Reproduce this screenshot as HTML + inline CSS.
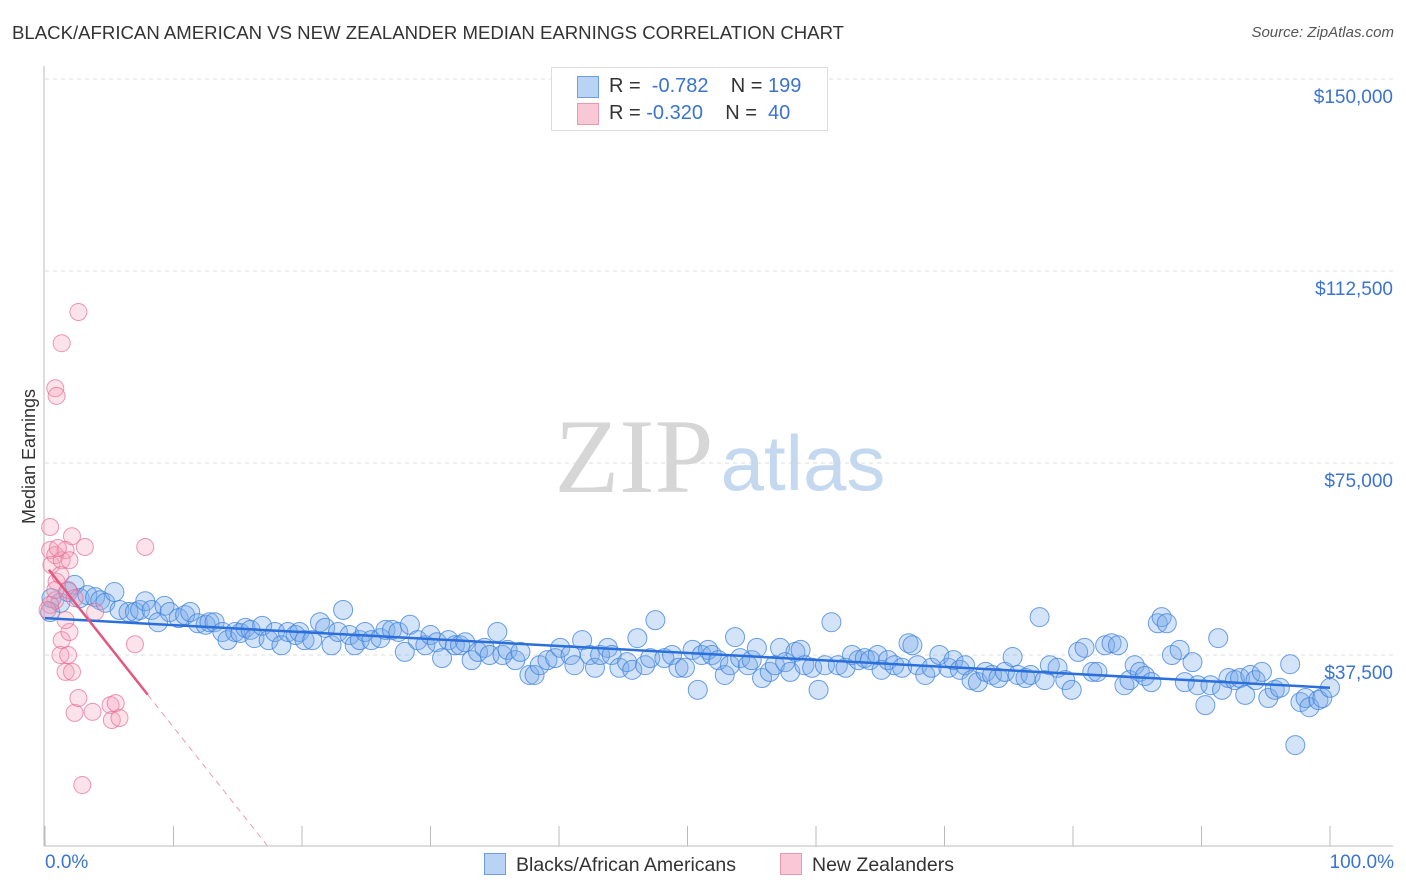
<!DOCTYPE html>
<html><head><meta charset="utf-8"><style>
body{margin:0;background:#fff;font-family:"Liberation Sans",sans-serif;}
#wrap{position:relative;width:1406px;height:892px;overflow:hidden;}
.t{position:absolute;white-space:nowrap;}
</style></head><body><div id="wrap">
<div class="t" style="left:12px;top:22px;font-size:18.6px;color:#333;">BLACK/AFRICAN AMERICAN VS NEW ZEALANDER MEDIAN EARNINGS CORRELATION CHART</div>
<div class="t" style="right:12px;top:24px;font-size:15px;color:#555;font-style:italic;">Source: ZipAtlas.com</div>
<svg id="svg" width="1406" height="892" style="position:absolute;left:0;top:0"></svg>
</div>
<script>
const bx=[0.4,0.5,1.2,1.8,2.3,2.7,3.3,3.9,4.3,4.7,5.4,5.8,6.5,7.0,7.4,7.8,8.3,8.8,9.3,9.7,10.4,10.9,11.3,11.9,12.5,12.8,13.2,13.8,14.2,14.8,15.2,15.6,16.0,16.3,16.9,17.4,17.9,18.4,18.9,19.5,19.8,20.2,20.8,21.4,21.8,22.3,22.8,23.2,23.7,24.1,24.5,24.9,25.4,26.1,26.5,27.0,27.5,28.0,28.4,29.0,29.6,30.0,30.5,30.9,31.4,31.9,32.3,32.7,33.2,33.7,34.2,34.6,35.2,35.6,36.0,36.6,37.0,37.7,38.1,38.5,39.1,39.7,40.1,40.9,41.2,41.8,42.4,42.8,43.2,43.8,44.1,44.7,45.3,45.7,46.1,46.7,47.1,47.5,48.2,48.8,49.3,49.8,50.4,50.8,51.1,51.6,51.9,52.4,52.9,53.3,53.7,54.1,54.7,55.0,55.4,55.8,56.4,56.8,57.2,57.6,58.0,58.4,58.8,59.1,59.7,60.2,60.7,61.2,61.7,62.3,62.8,63.3,63.8,64.2,64.8,65.1,65.6,66.1,66.7,67.2,67.5,67.9,68.5,69.0,69.6,70.3,70.7,71.2,71.6,72.1,72.6,73.2,73.7,74.2,74.7,75.3,75.7,76.3,76.7,77.4,77.8,78.2,78.8,79.4,79.9,80.4,80.9,81.5,81.9,82.5,83.0,83.5,84.0,84.4,84.8,85.2,85.6,86.1,86.6,86.9,87.3,87.7,88.3,88.7,89.3,89.7,90.3,90.7,91.3,91.6,92.1,92.6,93.0,93.4,93.8,94.2,94.7,95.2,95.7,96.1,96.9,97.3,97.7,98.1,98.4,99.1,99.4,100];
const by=[45.9,48.6,47.7,49.8,51.2,48.6,49.2,48.8,48.2,47.7,49.8,46.3,45.9,45.9,46.3,48.0,46.3,43.9,47.1,45.9,44.7,45.3,45.9,43.7,43.4,43.9,43.9,42.0,40.4,42.0,41.8,42.8,42.4,40.8,43.2,40.4,42.0,39.4,42.0,41.4,42.0,40.4,40.4,43.9,42.8,39.4,42.0,46.3,41.4,39.4,40.4,42.0,40.4,40.8,42.4,42.4,42.0,38.1,43.4,40.4,39.4,41.4,40.0,36.9,40.4,39.4,39.4,40.0,36.5,38.1,38.9,37.5,42.0,37.5,38.5,36.5,38.1,33.6,33.6,35.5,36.5,36.9,38.9,37.5,35.5,40.4,37.5,35.0,37.5,38.9,37.5,35.0,36.1,34.6,40.8,35.5,36.9,44.3,36.9,37.5,35.0,35.0,38.5,30.7,37.5,38.5,37.5,36.5,33.6,35.5,41.0,36.9,35.5,36.5,38.9,33.0,34.2,35.5,38.9,36.1,34.2,38.1,38.5,35.5,35.0,30.7,35.5,43.9,35.5,35.0,37.5,36.5,36.9,36.5,37.5,34.6,36.5,35.5,35.0,39.8,39.4,35.5,33.6,35.0,37.5,35.0,36.5,34.6,35.5,32.6,32.2,34.2,33.6,33.0,34.2,37.1,33.6,33.0,33.6,44.9,32.6,35.5,35.0,32.6,30.7,38.1,38.9,34.2,34.2,39.4,39.8,39.4,31.6,32.6,35.5,34.2,33.4,32.2,43.7,44.9,43.7,37.5,38.5,32.2,36.1,31.6,27.7,31.6,40.8,30.7,33.0,32.6,33.0,29.7,33.6,32.6,34.2,29.1,30.7,31.1,35.7,19.9,28.3,29.1,27.3,28.7,29.1,31.1];
const px=[0.4,0.4,0.5,0.8,0.9,0.8,1.3,1.2,1.3,1.6,1.8,1.9,1.6,1.8,1.9,2.1,2.3,2.1,2.3,2.6,2.9,3.1,3.7,3.9,5.1,5.2,5.5,5.8,7.0,7.8,1.3,0.8,0.9,2.6,0.4,0.8,1.2,0.2,1.6,1.0];
const py=[62.5,58.0,55.1,48.2,51.8,57.0,40.4,37.5,56.0,58.0,50.2,42.0,34.2,37.5,56.0,60.7,48.6,34.2,26.2,29.1,12.1,58.6,26.4,45.9,27.7,24.8,28.1,25.2,39.6,58.6,98.4,89.6,88.1,104.5,47.3,50.2,53.1,46.3,44.3,58.4];
const yTicks=[37500,75000,112500,150000];
const yLabels=["$37,500","$75,000","$112,500","$150,000"];
const blueTrend=[44.7,31.1];
const pinkTrend=[55.1,-3.17];

const X=v=>45+v*12.85;
const Y=k=>847-k*192/37.5;
const svg=document.getElementById('svg');
const NS='http://www.w3.org/2000/svg';
function mk(t,a,p){const e=document.createElementNS(NS,t);for(const k in a)e.setAttribute(k,a[k]);(p||svg).appendChild(e);return e;}

yTicks.forEach((v,i)=>{
 const g=mk('line',{x1:45,x2:1393,y1:Y(v/1000),y2:Y(v/1000),stroke:'#ddd','stroke-dasharray':'4,4'});
 
 
 const t=mk('text',{x:1393,y:Y(v/1000)+24,'text-anchor':'end','font-size':19,fill:'#3b73d1','font-family':'Liberation Sans, sans-serif'});
 t.textContent=yLabels[i];
 
 
});
const ax=mk('line',{x1:44,x2:44,y1:66,y2:846,stroke:'#bbb'});


const bx0=mk('line',{x1:44,x2:1393,y1:846,y2:846,stroke:'#bbb'});


for(let i=0;i<=10;i++){const tk=mk('line',{x1:X(i*10),x2:X(i*10),y1:826,y2:846,stroke:'#bbb'});
 
 }

const w1=mk('text',{x:634,y:492,'text-anchor':'middle','font-size':106,fill:'#d6d6d6','font-family':'Liberation Serif, serif'});w1.textContent='ZIP';


const w2=mk('text',{x:803,y:490,'text-anchor':'middle','font-size':78,fill:'#c4d8f0','font-family':'Liberation Sans, sans-serif'});w2.textContent='atlas';



bx.forEach((v,i)=>{const c=mk('circle',{cx:X(v),cy:Y(by[i]),r:9.5,fill:'rgba(120,170,235,0.33)',stroke:'rgba(60,130,220,0.75)','stroke-width':1});
 
 });
px.forEach((v,i)=>{const c=mk('circle',{cx:X(v),cy:Y(py[i]),r:8.5,fill:'rgba(245,160,185,0.3)',stroke:'rgba(230,110,150,0.7)','stroke-width':1});
 
 });

const bl=mk('line',{x1:X(0),y1:Y(blueTrend[0]),x2:X(100),y2:Y(blueTrend[1]),stroke:'#2a6fdb','stroke-width':2.5});


const pe=8,pz=-pinkTrend[0]/pinkTrend[1];
const pl=mk('line',{x1:X(0.3),y1:Y(pinkTrend[0]+pinkTrend[1]*0.3),x2:X(pe),y2:Y(pinkTrend[0]+pinkTrend[1]*pe),stroke:'#e3577f','stroke-width':2.5});


const pd=mk('line',{x1:X(pe),y1:Y(pinkTrend[0]+pinkTrend[1]*pe),x2:X(pz),y2:Y(0),stroke:'#eb9ab2','stroke-width':1,'stroke-dasharray':'6,5'});


</script>
<div class="t" style="left:-38px;top:446px;font-size:18px;color:#333;transform:rotate(-90deg);">Median Earnings</div>
<div class="t" style="left:45px;top:852px;font-size:19px;color:#3b73d1;">0.0%</div>
<div class="t" style="right:12px;top:852px;font-size:19px;color:#3b73d1;">100.0%</div>
<div style="position:absolute;left:551px;top:67px;width:275px;height:62px;border:1px solid #ddd;background:#fff;font-size:20px;color:#333;">
 <div style="position:absolute;left:25px;top:8px;width:20px;height:20px;background:#b9d3f5;border:1px solid #6f9ee0;"></div>
 <div class="t" style="left:57px;top:7px;">R = <span style="color:#3b73d1">&nbsp;-0.782</span>&nbsp;&nbsp;&nbsp; N = <span style="color:#3b73d1">199</span></div>
 <div style="position:absolute;left:25px;top:35px;width:20px;height:20px;background:#f8c8d6;border:1px solid #ea97b0;"></div>
 <div class="t" style="left:57px;top:34px;">R = <span style="color:#3b73d1">-0.320</span>&nbsp;&nbsp;&nbsp; N = <span style="color:#3b73d1">&nbsp;40</span></div>
</div>
<div style="position:absolute;left:484px;top:853px;font-size:19.5px;color:#333;">
 <span style="display:inline-block;width:20px;height:20px;background:#b9d3f5;border:1px solid #6f9ee0;vertical-align:-4px;margin-right:10px;"></span>Blacks/African Americans</div>
<div style="position:absolute;left:780px;top:853px;font-size:19.5px;color:#333;">
 <span style="display:inline-block;width:20px;height:20px;background:#f8c8d6;border:1px solid #ea97b0;vertical-align:-4px;margin-right:10px;"></span>New Zealanders</div>
</body></html>
